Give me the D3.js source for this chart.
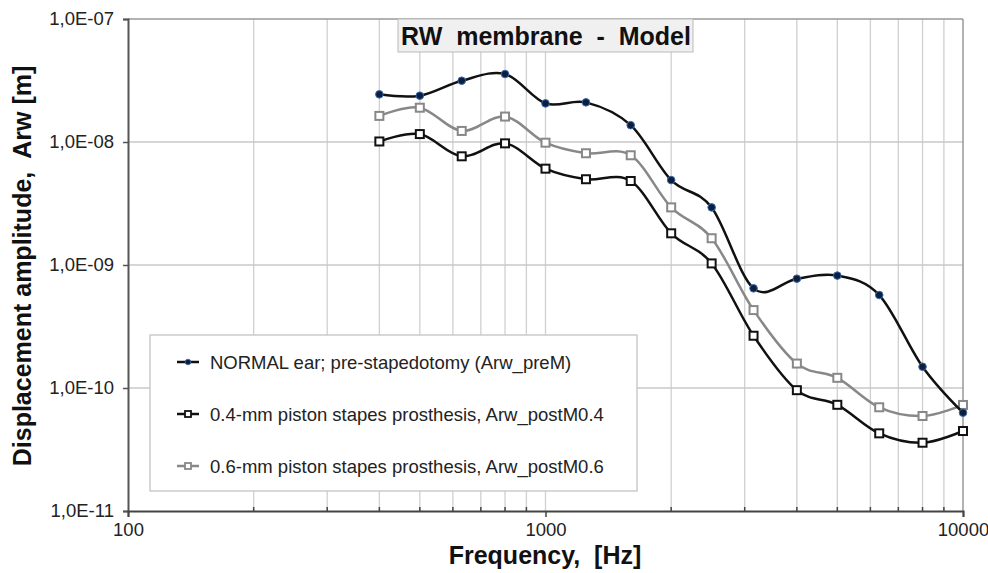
<!DOCTYPE html>
<html>
<head>
<meta charset="utf-8">
<script src="https://cdn.jsdelivr.net/npm/d3@7"></script>
<style>
  body { margin: 0; background: #fff; }
  text { font-family: "Liberation Sans", Arial, sans-serif; white-space: pre; }
</style>
</head>
<body>
<svg width="988" height="573"></svg>
<script>
// Datos
var freqs = [400, 500, 630, 800, 1000, 1250, 1600, 2000, 2500, 3150, 4000, 5000, 6300, 8000, 10000];
var normalEar = [2.44e-8, 2.38e-8, 3.15e-8, 3.57e-8, 2.06e-8, 2.1e-8, 1.37e-8, 4.9e-9, 2.94e-9,
    6.46e-10, 7.74e-10, 8.2e-10, 5.7e-10, 1.49e-10, 6.3e-11];
var piston04 = [1.01e-8, 1.16e-8, 7.65e-9, 9.75e-9, 6.07e-9, 4.98e-9, 4.82e-9, 1.81e-9, 1.03e-9,
    2.66e-10, 9.6e-11, 7.3e-11, 4.28e-11, 3.59e-11, 4.47e-11];
var piston06 = [1.63e-8, 1.9e-8, 1.23e-8, 1.61e-8, 9.87e-9, 8.1e-9, 7.8e-9, 2.94e-9, 1.65e-9,
    4.3e-10, 1.58e-10, 1.21e-10, 6.97e-11, 5.92e-11, 7.28e-11];
var seriesNames = ['NORMAL ear; pre-stapedotomy (Arw_preM)',
    '0.4-mm piston stapes prosthesis, Arw_postM0.4',
    '0.6-mm piston stapes prosthesis, Arw_postM0.6'];
var yTickLabels = ['1,0E-07', '1,0E-08', '1,0E-09', '1,0E-10', '1,0E-11'];
var yTickValues = [1e-7, 1e-8, 1e-9, 1e-10, 1e-11];
var xTickValues = [100, 1000, 10000];

var svg = d3.select('svg');
var pLeft = 128, pRight = 963, pTop = 19, pBottom = 511;

var x = d3.scaleLog().domain([100, 10000]).range([pLeft, pRight]);
var y = d3.scaleLog().domain([1e-11, 1e-7]).range([pBottom, pTop]);

// Rejilla
var minorX = [];
[100, 1000].forEach(function(d) {
    for (var k = 2; k <= 9; k++) minorX.push(d * k);
});
svg.append('g').selectAll('line')
    .data(minorX.concat([1000]))
    .enter().append('line')
    .attr('x1', function(d) { return x(d); })
    .attr('x2', function(d) { return x(d); })
    .attr('y1', pTop).attr('y2', pBottom)
    .attr('stroke', '#d0d0d0').attr('stroke-width', 1.3);
svg.append('g').selectAll('line')
    .data(yTickValues.slice(1, 4))
    .enter().append('line')
    .attr('x1', pLeft).attr('x2', pRight)
    .attr('y1', function(d) { return y(d); })
    .attr('y2', function(d) { return y(d); })
    .attr('stroke', '#c8c8c8').attr('stroke-width', 1.3);

// Borde
svg.append('line').attr('x1', pLeft).attr('x2', pRight).attr('y1', pTop).attr('y2', pTop)
    .attr('stroke', '#999').attr('stroke-width', 1.5);
svg.append('line').attr('x1', pRight).attr('x2', pRight).attr('y1', pTop).attr('y2', pBottom)
    .attr('stroke', '#999').attr('stroke-width', 1.5);

// Ejes
var yAxis = svg.append('g').attr('transform', 'translate(' + pLeft + ',0)')
    .call(d3.axisLeft(y).tickValues(yTickValues).tickSize(5).tickPadding(9)
        .tickFormat(function(d, i) { return yTickLabels[i]; }));
yAxis.select('.domain').attr('stroke', '#555').attr('stroke-width', 2);
yAxis.selectAll('.tick line').attr('stroke', '#555').attr('stroke-width', 1.5);
yAxis.selectAll('text').style('font-size', '18.5px').attr('fill', '#222');

var xAxis = svg.append('g').attr('transform', 'translate(0,' + pBottom + ')')
    .call(d3.axisBottom(x).tickValues(xTickValues).tickSize(6).tickPadding(6)
        .tickFormat(d3.format('d')));
xAxis.select('.domain').attr('stroke', '#444').attr('stroke-width', 2);
xAxis.selectAll('.tick line').attr('stroke', '#444').attr('stroke-width', 1.5);
xAxis.selectAll('text').style('font-size', '18.5px').attr('fill', '#222');
svg.append('g').selectAll('line')
    .data(minorX)
    .enter().append('line')
    .attr('x1', function(d) { return x(d); })
    .attr('x2', function(d) { return x(d); })
    .attr('y1', pBottom - 4).attr('y2', pBottom)
    .attr('stroke', '#444').attr('stroke-width', 1.5);

// Titulos de ejes
svg.append('text')
    .attr('x', 545).attr('y', 564)
    .attr('text-anchor', 'middle')
    .style('font-size', '25px').style('font-weight', 'bold')
    .attr('fill', '#111')
    .text('Frequency,  [Hz]');
svg.append('text')
    .attr('transform', 'translate(31,266) rotate(-90)')
    .attr('text-anchor', 'middle')
    .style('font-size', '25px').style('font-weight', 'bold')
    .attr('fill', '#111')
    .text('Displacement amplitude,  Arw [m]');

// Titulo
svg.append('rect')
    .attr('x', 398).attr('y', 19).attr('width', 295).attr('height', 33)
    .attr('fill', '#f0f0f0').attr('stroke', '#bbb').attr('stroke-width', 1);
svg.append('text')
    .attr('x', 546).attr('y', 45)
    .attr('text-anchor', 'middle')
    .style('font-size', '25px').style('font-weight', 'bold')
    .attr('fill', '#111')
    .text('RW  membrane  -  Model');

// Series
var series = [
    { values: normalEar, color: '#111', marker: 'dot' },
    { values: piston04, color: '#111', marker: 'square' },
    { values: piston06, color: '#888', marker: 'square' }
];

var line = d3.line()
    .x(function(d) { return x(d[0]); })
    .y(function(d) { return y(d[1]); })
    .curve(d3.curveCardinal.tension(0));

series.slice().reverse().forEach(function(s) {
    var pts = freqs.map(function(f, i) { return [f, s.values[i]]; });
    svg.append('path')
        .datum(pts)
        .attr('d', line)
        .attr('fill', 'none')
        .attr('stroke', s.color)
        .attr('stroke-width', 2.5);
    if (s.marker === 'dot') {
        svg.append('g').selectAll('circle')
            .data(pts).enter().append('circle')
            .attr('cx', function(d) { return x(d[0]); })
            .attr('cy', function(d) { return y(d[1]); })
            .attr('r', 3.8)
            .attr('fill', '#0d1f3c')
            .attr('stroke', '#3a6ab0').attr('stroke-width', 1);
    } else {
        svg.append('g').selectAll('rect')
            .data(pts).enter().append('rect')
            .attr('x', function(d) { return x(d[0]) - 4; })
            .attr('y', function(d) { return y(d[1]) - 4; })
            .attr('width', 8).attr('height', 8)
            .attr('fill', '#fff')
            .attr('stroke', s.color).attr('stroke-width', 2);
    }
});

// Leyenda
var legend = svg.append('g');
legend.append('rect')
    .attr('x', 150).attr('y', 335).attr('width', 487).attr('height', 156)
    .attr('fill', '#fff').attr('stroke', '#c4c4c4').attr('stroke-width', 1.3);
series.forEach(function(s, i) {
    var ly = 362 + i * 52;
    legend.append('line')
        .attr('x1', 177).attr('x2', 199).attr('y1', ly).attr('y2', ly)
        .attr('stroke', s.color).attr('stroke-width', 2.5);
    if (s.marker === 'dot') {
        legend.append('circle').attr('cx', 188).attr('cy', ly).attr('r', 2.8)
            .attr('fill', '#0d1f3c').attr('stroke', '#3a6ab0').attr('stroke-width', 0.8);
    } else {
        legend.append('rect').attr('x', 185).attr('y', ly - 3).attr('width', 6).attr('height', 6)
            .attr('fill', '#fff').attr('stroke', s.color).attr('stroke-width', 1.8);
    }
    legend.append('text')
        .attr('x', 210).attr('y', ly + 6.5)
        .style('font-size', '18.5px')
        .attr('fill', '#222')
        .text(seriesNames[i]);
});
</script>
</body>
</html>
